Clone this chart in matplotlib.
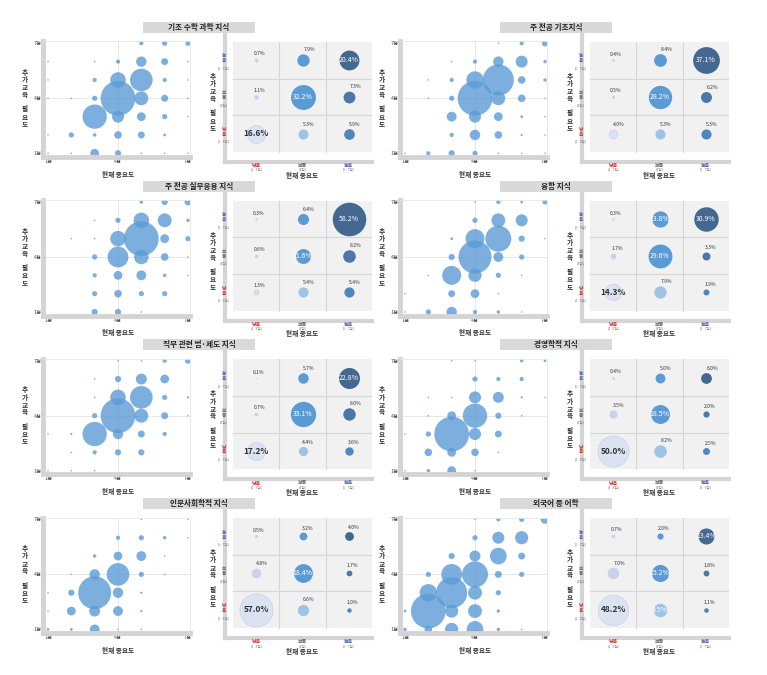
import numpy as np
import matplotlib.pyplot as plt
from matplotlib.patches import Rectangle

plt.rcParams['font.family'] = ['Noto Sans CJK KR', 'DejaVu Sans']

W, H = 767, 675

titles = ['기초 수학 과학 지식', '주 전공 기초지식', '주 전공 실무응용 지식', '융합 지식',
          '직무 관련 법·제도 지식', '경영학적 지식', '인문사회학적 지식', '외국어 등 어학']

# 3x3 matrix shares (%), rows: high / mid / low need, cols: low / mid / high importance
mat1 = [[0.7, 7.9, 20.4], [1.1, 32.2, 7.3], [16.6, 5.3, 5.9]]
mat2 = [[0.4, 8.4, 37.1], [0.5, 28.2, 6.2], [4.0, 5.3, 5.3]]
mat3 = [[0.3, 6.4, 58.2], [0.6, 11.6, 8.2], [1.3, 5.4, 5.4]]
mat4 = [[0.3, 13.8, 30.9], [1.7, 29.6, 3.3], [14.3, 7.9, 1.9]]
mat5 = [[0.1, 5.7, 22.8], [0.7, 33.1, 8.0], [17.2, 4.4, 3.6]]
mat6 = [[0.4, 5.0, 6.0], [3.5, 18.5, 2.0], [50.0, 8.2, 2.5]]
mat7 = [[0.5, 3.2, 4.0], [4.8, 18.4, 1.7], [57.0, 6.6, 1.0]]
mat8 = [[0.7, 2.0, 13.4], [7.0, 15.2, 1.8], [48.2, 9.5, 1.1]]

# 7x7 bubble shares (%), rows: need 7 -> 1, cols: importance 1 -> 7
sc1 = [[0, 0, 0, 0, 0.36, 0.56, 0.56],
       [0.05, 0, 0.05, 0.36, 2.25, 1.0, 0.05],
       [0.05, 0, 0.36, 5.0, 10.6, 0.36, 0.05],
       [0.05, 0.05, 0.56, 25, 4.0, 1.0, 0.05],
       [0, 0, 12.25, 3.0, 1.6, 0.56, 0.05],
       [0.05, 0.56, 0.25, 1.2, 1.0, 0.16, 0],
       [0.05, 0.05, 1.6, 0.8, 0.05, 0.05, 0.05]]
sc2 = [[0, 0, 0, 0, 0.05, 0.36, 0.8],
       [0, 0, 0.05, 0.36, 2.25, 3.0, 0.25],
       [0, 0.05, 0.36, 6.25, 20, 1.2, 0.25],
       [0, 0.05, 0.56, 25, 4.0, 1.2, 0.05],
       [0, 0, 2.0, 3.0, 1.6, 0.16, 0.05],
       [0, 0, 0.36, 2.25, 1.2, 0.1, 0.05],
       [0.05, 0.36, 0.8, 0.56, 0.05, 0.05, 0.05]]
sc3 = [[0, 0, 0, 0, 0.25, 0.8, 1.0],
       [0, 0, 0.05, 0.56, 5.0, 4.0, 0.25],
       [0, 0.05, 0.05, 5.0, 25, 1.6, 0.56],
       [0, 0, 0.56, 9.0, 4.4, 1.2, 0.05],
       [0, 0, 0.36, 1.6, 2.0, 0.25, 0.05],
       [0, 0, 0.56, 1.2, 0.56, 0.56, 0],
       [0, 0, 0.8, 0.8, 0.05, 0, 0]]
sc4 = [[0, 0, 0, 0.05, 0.36, 0.16, 0.56],
       [0, 0, 0, 0.56, 4.0, 3.0, 0],
       [0, 0, 0.16, 7.5, 14, 0.8, 0.05],
       [0, 0, 0.8, 22.5, 2.0, 0.56, 0],
       [0, 0.05, 7.5, 3.6, 0.56, 0.05, 0],
       [0.05, 0, 1.0, 1.6, 0.05, 0, 0],
       [0.05, 0.56, 2.25, 0.36, 0.25, 0.05, 0]]
sc5 = [[0, 0, 0, 0.05, 0.05, 0.36, 0.8],
       [0, 0, 0.05, 0.8, 2.5, 1.6, 0],
       [0, 0, 0.05, 5.0, 10.6, 0.56, 0.1],
       [0, 0, 0.56, 25, 4.0, 1.0, 0.05],
       [0.05, 0.1, 12.25, 2.25, 1.0, 0.36, 0],
       [0, 0.05, 0.36, 0.8, 0.8, 0, 0],
       [0.05, 0.05, 0.05, 0, 0, 0, 0]]
sc6 = [[0, 0, 0.05, 0.05, 0, 0.25, 0.16],
       [0, 0, 0, 0.56, 0.36, 0.36, 0],
       [0, 0.05, 0.05, 3.0, 2.5, 0.1, 0.05],
       [0, 0.05, 1.6, 12.25, 0.8, 0.05, 0],
       [0.05, 0.56, 25, 3.0, 1.0, 0, 0],
       [0, 1.2, 1.6, 1.2, 0.05, 0, 0],
       [0.05, 0.25, 1.6, 0.05, 0, 0, 0]]
sc7 = [[0, 0, 0, 0, 0.05, 0, 0.05],
       [0, 0, 0, 0.36, 0.56, 0.25, 0.05],
       [0, 0, 0.25, 1.6, 2.0, 0.05, 0],
       [0, 0.05, 2.25, 10.6, 0.56, 0.05, 0],
       [0.05, 0.8, 22.5, 2.25, 0.1, 0, 0],
       [0.05, 1.6, 2.5, 2.0, 0.1, 0, 0],
       [0.16, 0.16, 2.0, 0.05, 0.05, 0, 0]]
sc8 = [[0, 0, 0, 0.05, 0.36, 0.56, 1.6],
       [0, 0, 0, 0.56, 3.0, 3.6, 0],
       [0, 0, 0.8, 2.5, 5.8, 1.0, 0],
       [0, 0.56, 9.0, 14, 1.0, 0.56, 0],
       [0, 6.25, 20, 4.0, 0.56, 0, 0],
       [0.16, 25, 3.6, 4.0, 0.25, 0, 0],
       [0.25, 1.2, 3.6, 5.8, 0.25, 0.05, 0]]

mats = [mat1, mat2, mat3, mat4, mat5, mat6, mat7, mat8]
scs = [sc1, sc2, sc3, sc4, sc5, sc6, sc7, sc8]

score_ticks = ['1점', '4점', '7점']
row_names = ['높음', '보통', '낮음']
row_subs = ['(5~7점)', '(4점)', '(1~3점)']
col_names = ['낮음', '보통', '높음']
col_subs = ['(1~3점)', '(4점)', '(5~7점)']
name_colors = {'높음': '#4a5fb0', '보통': '#666666', '낮음': '#d03030'}

cell_colors = [['#c9d2ea', '#5b9bd5', '#44688f'],
               ['#c9d2ea', '#5b9bd5', '#4d77a6'],
               ['#dbe2f2', '#9dc3e6', '#4f86c0']]

ylab = '추\n가\n교\n육\n\n필\n요\n도'
MS = 10.0  # matrix bubble scale (pt^2 per %)


def px_axes(fig, x0, y0, x1, y1):
    return fig.add_axes([x0 / W, 1 - y1 / H, (x1 - x0) / W, (y1 - y0) / H])


fig = plt.figure(figsize=(W / 100, H / 100), dpi=100)

for k in range(8):
    r, c = k // 2, k % 2
    ox = c * 357
    oy = r * 158.7

    # title box
    tx, ty = 199 + ox, 27.5 + oy
    fig.add_artist(Rectangle(((tx - 56) / W, 1 - (ty + 5.5) / H), 112 / W, 11 / H,
                             transform=fig.transFigure, facecolor='#d9d9d9', edgecolor='none'))
    fig.text(tx / W, 1 - ty / H, titles[k], ha='center', va='center',
             fontsize=5.5, fontweight='bold', color='#222222')

    # bubble scatter
    ux, uy = 140 / 6, 110 / 6
    X1, Y7 = 48 + ox, 43.3 + oy
    ax = px_axes(fig, X1 - 0.2 * ux, Y7 - 0.1 * uy, X1 + 6.1 * ux, Y7 + 6.2 * uy)
    g = np.array(scs[k])
    xs, ys, vs = [], [], []
    for i in range(7):
        for j in range(7):
            if g[i, j] > 0:
                xs.append(j + 1)
                ys.append(7 - i)
                vs.append(g[i, j])
    ax.axvline(4, color='#e3e3e3', lw=0.6, zorder=0)
    ax.axhline(4, color='#e3e3e3', lw=0.6, zorder=0)
    ax.scatter(xs, ys, s=np.array(vs) * 25, color='#5b9bd5', alpha=0.8,
               linewidths=0, zorder=2)
    ax.set_xlim(0.8, 7.1)
    ax.set_ylim(0.8, 7.1)
    ax.set_xticks([1, 4, 7])
    ax.set_xticklabels(score_ticks)
    ax.set_yticks([1, 4, 7])
    ax.set_yticklabels(score_ticks)
    ax.tick_params(length=0, pad=1.5, labelsize=3.8, labelcolor='#555555')
    for s in ['left', 'bottom']:
        ax.spines[s].set_color('#d4d4d4')
        ax.spines[s].set_linewidth(3.5)
    for s in ['top', 'right']:
        ax.spines[s].set_color('#e6e6e6')
        ax.spines[s].set_linewidth(0.6)
    fig.text((25 + ox) / W, 1 - (98 + oy) / H, ylab, ha='center', va='center',
             fontsize=4.8, fontweight='bold', linespacing=1.05, color='#333333')
    fig.text((118 + ox) / W, 1 - (174 + oy) / H, '현재 중요도', ha='center', va='center',
             fontsize=4.8, fontweight='bold', color='#333333')

    # 3x3 matrix
    mx = px_axes(fig, 225 + ox, 35 + oy, 372 + ox, 162 + oy)
    mx.set_xlim(-8 / 46.33, 3)
    mx.set_ylim(-10 / 36.67, 3 + 7 / 36.67)
    mx.add_patch(Rectangle((0, 0), 3, 3, facecolor='#f1f1f1', edgecolor='none', zorder=0))
    for v in [1, 2]:
        mx.plot([v, v], [0, 3], color='#d6d6d6', lw=0.8, zorder=1)
        mx.plot([0, 3], [v, v], color='#d6d6d6', lw=0.8, zorder=1)
    mx.set_xticks([])
    mx.set_yticks([])
    for s in ['top', 'right']:
        mx.spines[s].set_visible(False)
    for s in ['left', 'bottom']:
        mx.spines[s].set_color('#d4d4d4')
        mx.spines[s].set_linewidth(3.0)
    m = mats[k]
    for i in range(3):
        for j in range(3):
            v = m[i][j]
            cx, cy = j + 0.5, 2.5 - i
            mx.scatter([cx], [cy], s=MS * v, color=cell_colors[i][j],
                       linewidths=0.4 if (i == 2 and j == 0) else 0,
                       edgecolors='#c3cce4', zorder=3)
            label = f'{v:.1f}%'
            if v >= 9:
                if i == 2 and j == 0:
                    mx.text(cx, cy, label, ha='center', va='center', fontsize=6,
                            fontweight='bold', color='#333333', zorder=4)
                else:
                    mx.text(cx, cy, label, ha='center', va='center', fontsize=5,
                            color='white', zorder=4)
            else:
                rad = np.sqrt(MS * v) / 2
                mx.annotate(label, (cx, cy), xytext=(rad * 0.9 + 1, rad * 0.9 + 3.5),
                            textcoords='offset points', ha='center', va='center',
                            fontsize=3.6, color='#333333', zorder=4)
    for i in range(3):
        cy = 2.5 - i
        mx.text(-0.2, cy + 0.05, '\n'.join(row_names[i]), ha='center', va='center',
                fontsize=3.4, fontweight='bold', color=name_colors[row_names[i]],
                linespacing=1.0, clip_on=False)
        mx.text(-0.2, cy - 0.22, row_subs[i], ha='center', va='center',
                fontsize=2.6, color='#888888', clip_on=False)
    for j in range(3):
        mx.text(j + 0.5, -0.3, col_names[j], ha='center', va='top', fontsize=3.6,
                fontweight='bold', color=name_colors[col_names[j]], clip_on=False)
        mx.text(j + 0.5, -0.43, col_subs[j], ha='center', va='top', fontsize=2.6,
                color='#888888', clip_on=False)
    fig.text((213 + ox) / W, 1 - (102 + oy) / H, ylab, ha='center', va='center',
             fontsize=4.8, fontweight='bold', linespacing=1.05, color='#333333')
    fig.text((302 + ox) / W, 1 - (175 + oy) / H, '현재 중요도', ha='center', va='center',
             fontsize=4.8, fontweight='bold', color='#333333')

fig.savefig('out.png', dpi=100)
